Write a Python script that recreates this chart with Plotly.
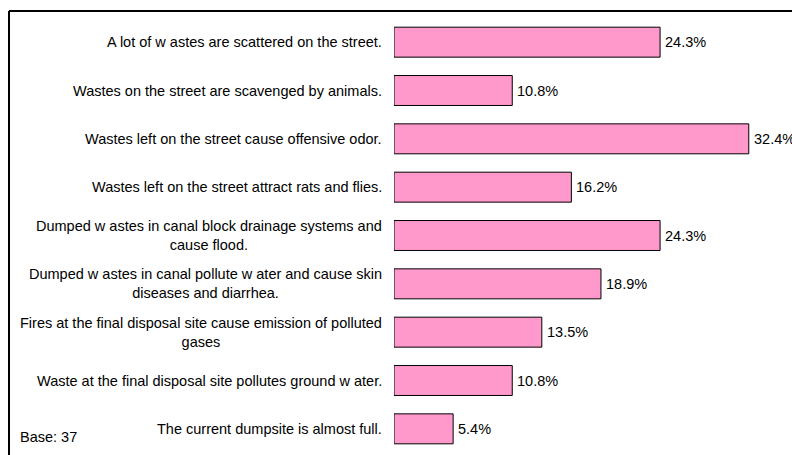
import plotly.graph_objects as go

# Survey responses: perceived problems caused by wastes (share of respondents, %)
statements = [
    "A lot of w astes are scattered on the street.",
    "Wastes on the street are scavenged by animals.",
    "Wastes left on the street cause offensive odor.",
    "Wastes left on the street attract rats and flies.",
    "Dumped w astes in canal block drainage systems and<br>cause flood.",
    "Dumped w astes in canal pollute w ater and cause skin<br>diseases and diarrhea.",
    "Fires at the final disposal site cause emission of polluted<br>gases",
    "Waste at the final disposal site pollutes ground w ater.",
    "The current dumpsite is almost full.",
]
shares = [24.3, 10.8, 32.4, 16.2, 24.3, 18.9, 13.5, 10.8, 5.4]
base_n = 37

FONT = dict(family="Liberation Sans, Arial, sans-serif", size=14.5, color="#000000")

W, H = 792, 455
L, R, T, B = 394, 0, 18, 2
plot_w = W - L - R
plot_h = H - T - B


def px_to_paper_x(px):
    return (px - L) / plot_w


def px_to_paper_y(py):
    return (H - B - py) / plot_h


fig = go.Figure(
    go.Bar(
        x=shares,
        y=statements,
        orientation="h",
        marker=dict(color="#FF99CC", line=dict(color="#000000", width=1)),
        hoverinfo="skip",
    )
)

annotations = []
for s, v in zip(statements, shares):
    # category text to the left of the bars
    annotations.append(
        dict(
            x=0, y=s, xref="x", yref="y",
            text=s, showarrow=False,
            xanchor="right", yanchor="middle", align="center",
            xshift=-10, font=FONT,
        )
    )
    # value label at the end of each bar
    annotations.append(
        dict(
            x=v, y=s, xref="x", yref="y",
            text=f"{v:.1f}%", showarrow=False,
            xanchor="left", yanchor="middle",
            xshift=3, font=FONT,
        )
    )

annotations.append(
    dict(
        x=px_to_paper_x(18), y=px_to_paper_y(437), xref="paper", yref="paper",
        text=f"Base: {base_n}", showarrow=False,
        xanchor="left", yanchor="middle", font=FONT,
    )
)

fig.update_layout(
    width=W, height=H,
    margin=dict(l=L, r=R, t=T, b=B, pad=0),
    paper_bgcolor="#FFFFFF", plot_bgcolor="#FFFFFF",
    showlegend=False,
    bargap=0.38,
    xaxis=dict(range=[0, plot_w / 10.95], visible=False, fixedrange=True),
    yaxis=dict(
        categoryorder="array", categoryarray=statements,
        autorange="reversed", visible=False, fixedrange=True,
    ),
    annotations=annotations,
    shapes=[
        # frame lines along the top and left edges
        dict(type="line", xref="paper", yref="paper",
             x0=px_to_paper_x(9), x1=1.0, y0=px_to_paper_y(11), y1=px_to_paper_y(11),
             line=dict(color="#000000", width=2)),
        dict(type="line", xref="paper", yref="paper",
             x0=px_to_paper_x(9), x1=px_to_paper_x(9), y0=px_to_paper_y(11), y1=px_to_paper_y(H + 2),
             line=dict(color="#000000", width=2)),
    ],
)

fig.write_html("out.html")
